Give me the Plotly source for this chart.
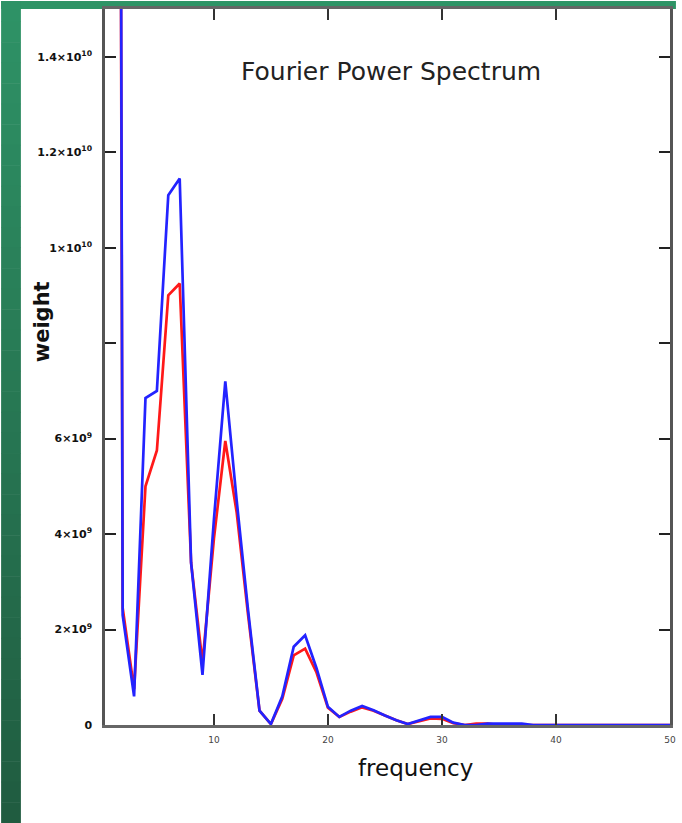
import plotly.graph_objects as go

# Spectrum samples (weight in units of 1e9)
freq = list(range(1, 51))
blue_w = [100.0, 2.3, 0.6, 6.85, 7.0, 11.1, 11.45, 3.4, 1.05, 4.3,
          7.2, 4.7, 2.4, 0.3, 0.02, 0.6, 1.64, 1.88, 1.19, 0.38,
          0.17, 0.3, 0.4, 0.31, 0.2, 0.1, 0.02, 0.09, 0.17, 0.17,
          0.05, 0.0, 0.0, 0.03, 0.03, 0.03, 0.03, 0.0, 0.0, 0.0,
          0.0, 0.0, 0.0, 0.0, 0.0, 0.0, 0.0, 0.0, 0.0, 0.0]
red_w = [90.0, 2.45, 0.75, 5.0, 5.75, 9.0, 9.25, 3.4, 1.3, 3.9,
         5.95, 4.45, 2.3, 0.3, 0.02, 0.55, 1.46, 1.6, 1.1, 0.36,
         0.17, 0.28, 0.37, 0.3, 0.2, 0.1, 0.02, 0.08, 0.14, 0.13,
         0.04, 0.0, 0.03, 0.03, 0.0, 0.0, 0.0, 0.0, 0.0, 0.0,
         0.0, 0.0, 0.0, 0.0, 0.0, 0.0, 0.0, 0.0, 0.0, 0.0]

y_tickvals = [0, 2e9, 4e9, 6e9, 8e9, 1e10, 1.2e10, 1.4e10]
y_ticktext = ["0", "2×10<sup>9</sup>", "4×10<sup>9</sup>", "6×10<sup>9</sup>", "",
              "1×10<sup>10</sup>", "1.2×10<sup>10</sup>", "1.4×10<sup>10</sup>"]
x_tickvals = [10, 20, 30, 40, 50]
x_ticktext = ["10", "20", "30", "40", "50"]

W, H = 682, 823
ML, MR, MT, MB = 105, 6, 8, 98
PW, PH = W - ML - MR, H - MT - MB


def px_x(p):
    return (p - ML) / PW


def px_y(p):
    return 1 - (p - MT) / PH


fig = go.Figure()
fig.add_trace(go.Scatter(x=freq, y=[v * 1e9 for v in red_w], mode="lines",
                         line=dict(color="rgb(255,25,25)", width=2.7), showlegend=False))
fig.add_trace(go.Scatter(x=freq, y=[v * 1e9 for v in blue_w], mode="lines",
                         line=dict(color="rgb(35,35,255)", width=2.7), showlegend=False))

# green frame: top bar and shaded left strip
shapes = [dict(type="rect", xref="paper", yref="paper",
               x0=px_x(0), x1=px_x(W), y0=px_y(0), y1=px_y(8),
               fillcolor="rgb(46,148,102)", line=dict(width=0), layer="below")]
n = 40
top_c, bot_c = (46, 146, 102), (32, 92, 64)
for i in range(n):
    t = i / (n - 1)
    c = tuple(round(a + (b - a) * t) for a, b in zip(top_c, bot_c))
    shapes.append(dict(type="rect", xref="paper", yref="paper",
                       x0=px_x(0), x1=px_x(20),
                       y0=px_y(H * i / n), y1=px_y(H * (i + 1) / n + 0.5),
                       fillcolor="rgb(%d,%d,%d)" % c, line=dict(width=0), layer="below"))

annotations = [
    dict(text="Fourier Power Spectrum", xref="paper", yref="paper",
         x=px_x(394), y=px_y(71), xanchor="center", yanchor="middle", showarrow=False,
         font=dict(family="DejaVu Sans", size=25, color="#222")),
    dict(text="weight", xref="paper", yref="paper", textangle=-90,
         x=px_x(41), y=px_y(321), xanchor="center", yanchor="middle", showarrow=False,
         font=dict(family="DejaVu Sans", size=21, color="#111", weight="bold")),
    dict(text="frequency", xref="paper", yref="paper",
         x=px_x(419), y=px_y(768), xanchor="center", yanchor="middle", showarrow=False,
         font=dict(family="DejaVu Sans", size=23, color="#111")),
]

fig.update_layout(
    width=W, height=H,
    margin=dict(l=ML, r=MR, t=MT, b=MB),
    paper_bgcolor="white", plot_bgcolor="white",
    shapes=shapes, annotations=annotations,
    xaxis=dict(range=[0.45, 50], tickvals=x_tickvals, ticktext=x_ticktext,
               ticks="inside", ticklen=11, tickwidth=2, tickcolor="#333",
               showgrid=False, zeroline=False,
               showline=True, linecolor="#666", linewidth=2.5, mirror="ticks",
               tickfont=dict(family="DejaVu Sans", size=9, color="#444"),
               ticklabelstandoff=4),
    yaxis=dict(range=[0, 1.5e10], tickvals=y_tickvals, ticktext=y_ticktext,
               ticks="inside", ticklen=11, tickwidth=2, tickcolor="#222",
               showgrid=False, zeroline=False,
               showline=True, linecolor="#555", linewidth=2.5, mirror="ticks",
               tickfont=dict(family="DejaVu Sans", size=11, color="#111", weight="bold"),
               ticklabelstandoff=8),
)

fig.write_html("out.html")
